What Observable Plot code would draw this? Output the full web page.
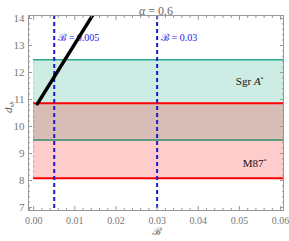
<!DOCTYPE html>
<html><head><meta charset="utf-8">
<script src="https://cdn.jsdelivr.net/npm/d3@7"></script>
<script src="https://cdn.jsdelivr.net/npm/@observablehq/plot@0.6"></script>
<style>body{margin:0;background:#fff}svg{display:block}</style>
</head><body><div id="chart"></div>
<script>
const title = "α = 0.6";
const xLabel = "ℬ";
const yLabel = "d_sh";
const xTicks = [0, 0.01, 0.02, 0.03, 0.04, 0.05, 0.06];
const yTicks = [7, 8, 9, 10, 11, 12, 13, 14];
const xDomain = [-0.00125, 0.0607];
const yDomain = [6.89, 14.11];
const bandNames = ["Sgr A*", "M87*"];
const bandLow = [9.5, 8.08];
const bandHigh = [12.47, 10.86];
const bandLabelX = [0.0525, 0.0537];
const bandLabelY = [11.67, 8.63];
const bandStart = 0;
const lineX = [0.0009, 0.005, 0.010, 0.0145];
const lineY = [10.84, 11.84, 13.06, 14.16];
const vLineX = [0.005, 0.03];
const vLineLabels = ["ℬ = 0.005", "ℬ = 0.03"];

const fills = ["rgb(100,200,170)", "rgb(255,0,0)"];
const fillOp = [0.32, 0.2];
const edgeColor = ["#2aa88a", "#ff0000"];
const bands = bandNames.map((n, i) => ({n, lo: bandLow[i], hi: bandHigh[i], lx: bandLabelX[i], ly: bandLabelY[i], i}));
const line = lineX.map((x, i) => ({x, y: lineY[i]}));
const minorX = d3.range(0, 61).map(d => d * 0.001).filter((d, i) => i % 2 === 0 && i % 10 !== 0).concat([-0.001]).map(d=>+d.toFixed(4));
const minorY = d3.range(35, 71).map(d => d / 5).filter(d => Math.abs(d - Math.round(d)) > 1e-9);
const gray = "#999";
const font = "Liberation Serif, serif";

const chart = Plot.plot({
  width: 289, height: 241,
  marginLeft: 28, marginRight: 6, marginTop: 15, marginBottom: 31,
  style: {fontFamily: font, fontSize: "11px", background: "#fff"},
  x: {domain: xDomain},
  y: {domain: yDomain},
  marks: [
    Plot.rect(bands, {x1: bandStart, x2: xDomain[1], y1: "lo", y2: "hi",
      fill: d => fills[d.i], fillOpacity: d => fillOp[d.i]}),
    Plot.ruleX(bands, {x: bandStart, y1: "lo", y2: "hi", stroke: d => fills[d.i], strokeOpacity: 0.3, strokeDasharray: "3,2"}),
    Plot.ruleY(bands, {y: "hi", x1: bandStart, x2: xDomain[1], stroke: d => edgeColor[d.i], strokeWidth: d => d.i ? 2 : 1.5}),
    Plot.ruleY(bands, {y: "lo", x1: bandStart, x2: xDomain[1], stroke: d => d.i ? "#ff0000" : "#2e8b66", strokeWidth: d => d.i ? 2 : 1.5}),
    Plot.text(bands, {x: "lx", y: "ly", text: "n", fill: "#111", fontSize: 11, fontFamily: font}),
    Plot.ruleX(vLineX, {x: d => d, stroke: "#1a1acc", strokeWidth: 2, strokeDasharray: "4,3"}),
    Plot.text(vLineX, {x: d => d, y: 13.3, text: (d, i) => vLineLabels[i], textAnchor: "start", dx: 4, fill: "#2222ee", fontSize: 10, fontFamily: font}),
    Plot.line(line, {x: "x", y: "y", stroke: "#000", strokeWidth: 3.5, clip: true}),
    Plot.frame({stroke: gray}),
    Plot.axisX({ticks: xTicks, tickSize: 0, tickPadding: 6, tickFormat: d3.format(".2f"), fill: "#777", fontSize: 10, label: null}),
    Plot.axisX({ticks: xTicks, tickSize: -4, text: null, stroke: gray}),
    Plot.axisX({ticks: minorX, tickSize: -2, text: null, stroke: gray}),
    Plot.axisX({anchor: "top", ticks: xTicks, tickSize: -4, text: null, stroke: gray, label: null}),
    Plot.axisX({anchor: "top", ticks: minorX, tickSize: -2, text: null, stroke: gray, label: null}),
    Plot.axisY({ticks: yTicks, tickSize: 0, tickPadding: 4, fill: "#777", fontSize: 11, label: null}),
    Plot.axisY({ticks: yTicks, tickSize: -4, text: null, stroke: gray, label: null}),
    Plot.axisY({ticks: minorY, tickSize: -2, text: null, stroke: gray, label: null}),
    Plot.axisY({anchor: "right", ticks: yTicks, tickSize: -4, text: null, stroke: gray, label: null}),
    Plot.axisY({anchor: "right", ticks: minorY, tickSize: -2, text: null, stroke: gray, label: null}),
    Plot.text([title], {frameAnchor: "top", dy: -9, text: d => d, fill: "#666", fontSize: 12, fontFamily: font}),
    Plot.text([xLabel], {frameAnchor: "bottom", dy: 24, text: d => d, fill: "#555", fontSize: 10, fontStyle: "italic", fontFamily: font}),
    Plot.text([yLabel], {frameAnchor: "left", dx: -20, text: d => d, rotate: -90, fill: "#555", fontSize: 11, fontStyle: "italic", fontFamily: font})
  ]
});

// rich text: subscripts / superscripts / italics
d3.select(chart).selectAll("text").each(function() {
  const t = d3.select(this);
  const s = t.text();
  if (s === "d_sh") {
    t.text("d");
    t.append("tspan").attr("font-size", 7).attr("dy", 2).attr("font-style", "italic").text("sh");
  } else if (s === "Sgr A*") {
    t.text("Sgr ");
    t.append("tspan").attr("font-style", "italic").text("A");
    t.append("tspan").attr("font-size", 6).attr("dy", -4).text("*");
  } else if (s === "M87*") {
    t.text("M87");
    t.append("tspan").attr("font-size", 6).attr("dy", -4).text("*");
  } else if (s === "α = 0.6") {
    t.text("");
    t.append("tspan").attr("font-style", "italic").text("α");
    t.append("tspan").text(" = 0.6");
  }
});
document.getElementById("chart").append(chart);
</script></body></html>
